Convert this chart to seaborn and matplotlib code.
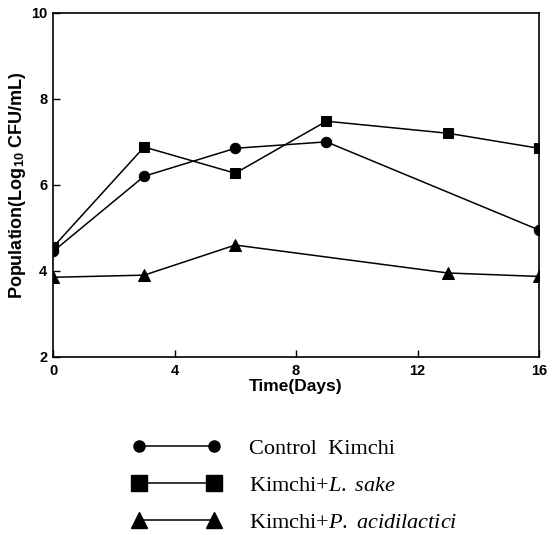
import matplotlib
matplotlib.use("Agg")
import matplotlib.pyplot as plt
import seaborn as sns
import pandas as pd
from matplotlib.lines import Line2D

sns.set_theme(style="white")
plt.rcParams['font.family'] = ['Liberation Sans', 'DejaVu Sans']
plt.rcParams['text.color'] = 'black'
plt.rcParams['axes.labelcolor'] = 'black'
plt.rcParams['xtick.color'] = 'black'
plt.rcParams['ytick.color'] = 'black'
plt.rcParams['mathtext.fontset'] = 'custom'
plt.rcParams['mathtext.rm'] = 'Liberation Serif'
plt.rcParams['mathtext.it'] = 'Liberation Serif:italic'
plt.rcParams['mathtext.sf'] = 'Liberation Sans:bold'
plt.rcParams['mathtext.bf'] = 'Liberation Sans:bold'

# Data
control_days = [0, 3, 6, 9, 16]
control_vals = [4.45, 6.2, 6.85, 7.0, 4.95]
sake_days = [0, 3, 6, 9, 13, 16]
sake_vals = [4.55, 6.88, 6.27, 7.48, 7.2, 6.85]
acid_days = [0, 3, 6, 13, 16]
acid_vals = [3.85, 3.9, 4.6, 3.95, 3.87]

labels = ["Control  Kimchi",
          "Kimchi+$\\mathit{L.}\\ \\mathit{sake}$",
          "Kimchi+$\\mathit{P.}\\ \\mathit{acidilactici}$"]
x_ticks = [0, 4, 8, 12, 16]
y_ticks = [2, 4, 6, 8, 10]

fig = plt.figure(figsize=(5.58, 5.35), dpi=100)
ax = fig.add_axes([0.095, 0.333, 0.871, 0.643])

series = [(control_days, control_vals, 'o', 7.5),
          (sake_days, sake_vals, 's', 7.0),
          (acid_days, acid_vals, '^', 8.0)]
for d, v, m, ms in series:
    df = pd.DataFrame({'day': d, 'val': v})
    sns.lineplot(data=df, x='day', y='val', ax=ax, color='black', lw=1.1,
                 marker=m, markersize=ms, markeredgecolor='black',
                 markerfacecolor='black')

ax.set_xlim(0, 16)
ax.set_ylim(2, 10)
ax.set_xticks(x_ticks)
ax.set_yticks(y_ticks)
ax.set_xticklabels([str(t) for t in x_ticks], fontweight='bold', fontsize=10.5)
ax.set_yticklabels([str(t) for t in y_ticks], fontweight='bold', fontsize=10.5)
ax.tick_params(axis='both', direction='in', length=5, width=1, colors='black',
               bottom=True, left=True, top=False, right=False, pad=4)
ax.tick_params(axis='x', pad=5)
for s in ax.spines.values():
    s.set_color('black')
    s.set_linewidth(1.2)
ax.set_xlabel("Time(Days)", fontweight='bold', fontsize=12.5, labelpad=1,
              color='black')
ax.set_ylabel("Population(Log$_{\\mathsf{10}}$ CFU/mL)", fontweight='bold',
              fontsize=13, labelpad=2, color='black')

handles = [Line2D([], [], color='black', lw=1.1, marker='o', markersize=8),
           Line2D([], [], color='black', lw=1.1, marker='s', markersize=12),
           Line2D([], [], color='black', lw=1.1, marker='^', markersize=12)]
leg = fig.legend(handles, labels, loc='upper left', bbox_to_anchor=(0.237, 0.181),
                 frameon=False, numpoints=2, handlelength=3.97, handletextpad=1.27,
                 labelspacing=0.75, borderpad=0, borderaxespad=0,
                 prop={'family': 'Liberation Serif', 'size': 16})
for t in leg.get_texts():
    t.set_color('black')

fig.savefig("out.png", dpi=100)
